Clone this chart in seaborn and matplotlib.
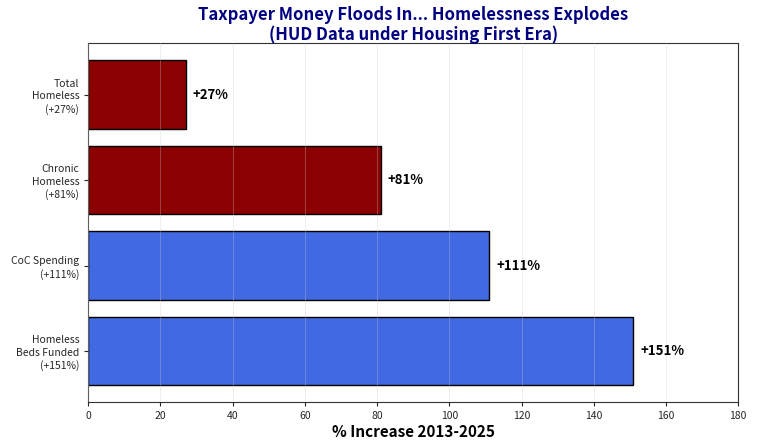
import matplotlib
matplotlib.use('Agg')
import matplotlib.pyplot as plt
import seaborn as sns
import pandas as pd

# data
labels = ['Total\nHomeless\n(+27%)', 'Chronic\nHomeless\n(+81%)',
          'CoC Spending\n(+111%)', 'Homeless\nBeds Funded\n(+151%)']
values = [27, 81, 111, 151]
colors = ['#8B0000', '#8B0000', '#4169E1', '#4169E1']

sns.set_style('white')
plt.rcParams['font.family'] = ['Noto Sans CJK SC', 'DejaVu Sans']

df = pd.DataFrame({'label': labels, 'value': values})

fig, ax = plt.subplots(figsize=(7.61, 4.47), dpi=100)
sns.barplot(data=df, x='value', y='label', hue='label', palette=colors,
            legend=False, edgecolor='black', linewidth=1, saturation=1,
            orient='h', ax=ax)

# value labels next to the bars
for i, v in enumerate(values):
    ax.text(v + 2, i, f'+{v}%', va='center', ha='left',
            fontsize=9.5, fontweight='bold', color='black')

ax.set_xlim(0, 180)
ax.set_ylim(3.6, -0.6)
ax.set_xticks(range(0, 181, 20))
ax.grid(axis='x', alpha=0.3)
ax.set_axisbelow(False)
ax.set_ylabel('')
ax.set_xlabel('% Increase 2013-2025', fontsize=11, fontweight='bold',
              labelpad=2, color='black')
ax.set_title('Taxpayer Money Floods In... Homelessness Explodes\n(HUD Data under Housing First Era)',
             fontsize=12, fontweight='bold', color='navy', linespacing=1.12, pad=2.5)
ax.tick_params(axis='both', labelsize=7.5, length=3, left=True, bottom=True)
for lbl in ax.get_yticklabels():
    lbl.set_linespacing(1.3)
for s in ax.spines.values():
    s.set_color('#333333')

plt.subplots_adjust(left=0.116, right=0.97, top=0.903, bottom=0.1)
fig.savefig('out.png', dpi=100)
